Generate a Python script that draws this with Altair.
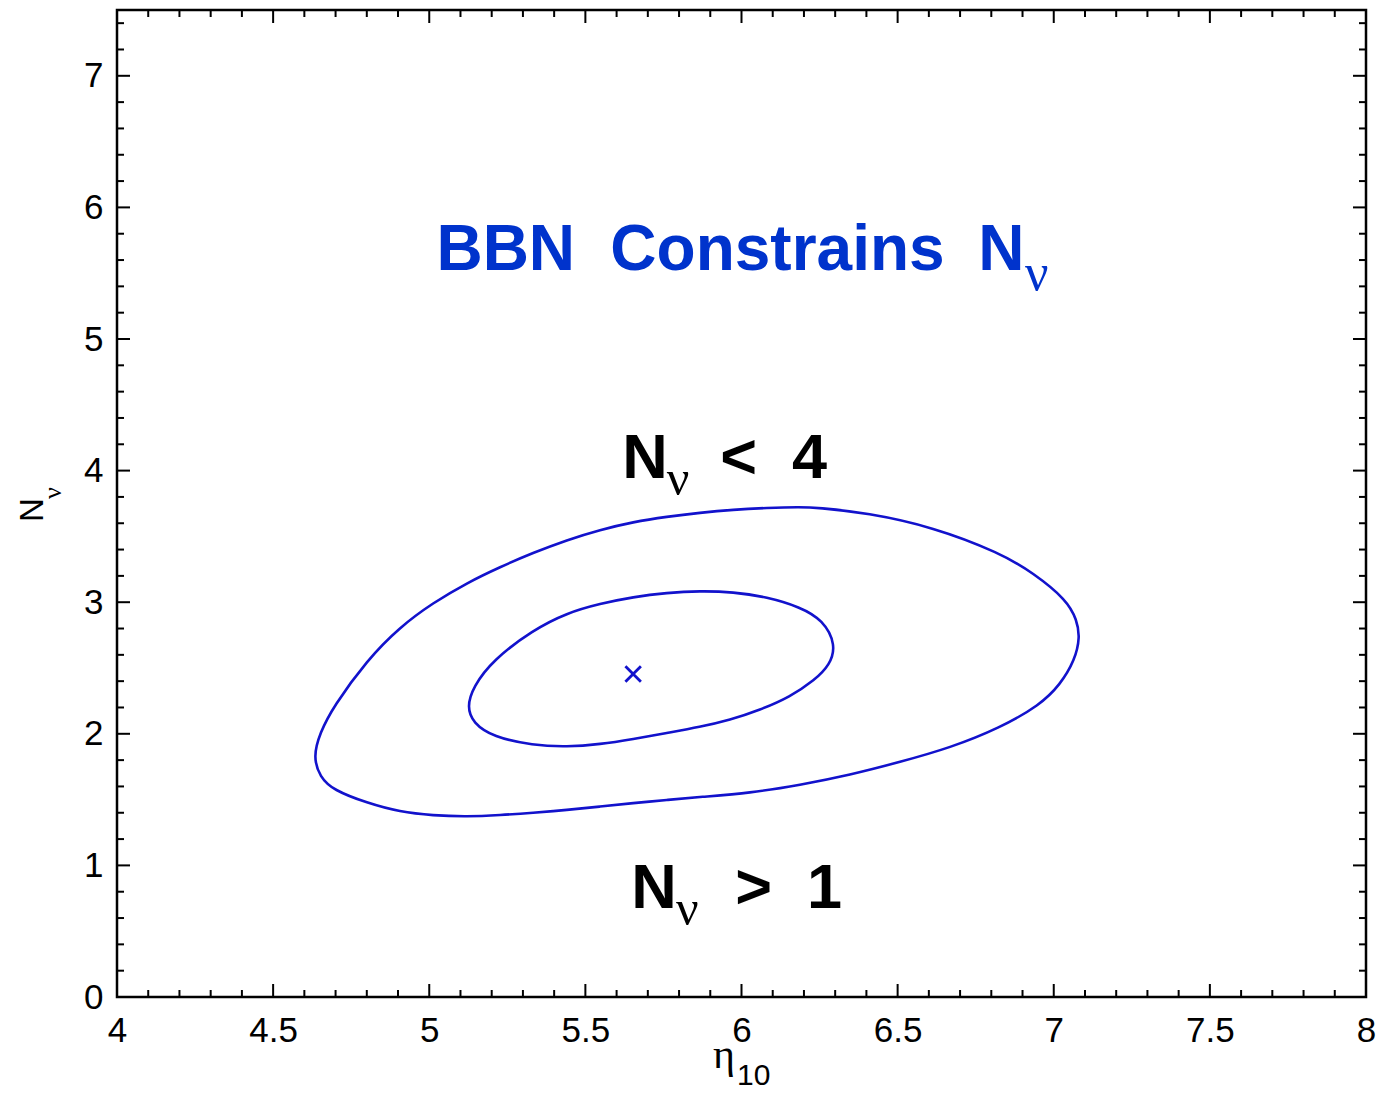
import altair as alt
import pandas as pd

# Confidence contours in the (eta_10, N_nu) plane
outer_x = [4.628, 4.650, 4.692, 4.801, 4.906, 5.012, 5.121, 5.227, 5.332, 5.441,
           5.547, 5.653, 5.761, 5.867, 5.973, 6.082, 6.187, 6.242, 6.402, 6.613,
           6.828, 6.934, 7.042, 7.074, 7.084, 7.068, 7.020, 6.956, 6.828, 6.668,
           6.508, 6.347, 6.187, 6.027, 5.867, 5.761, 5.653, 5.547, 5.441, 5.332,
           5.227, 5.121, 5.012, 4.906, 4.801, 4.692, 4.650]
outer_y = [1.824, 2.007, 2.204, 2.561, 2.812, 2.995, 3.147, 3.268, 3.375, 3.473,
           3.550, 3.610, 3.650, 3.680, 3.703, 3.717, 3.724, 3.719, 3.679, 3.572,
           3.375, 3.223, 3.017, 2.865, 2.736, 2.561, 2.371, 2.219, 2.045, 1.893,
           1.786, 1.687, 1.611, 1.550, 1.520, 1.497, 1.474, 1.447, 1.421, 1.399,
           1.382, 1.370, 1.379, 1.406, 1.474, 1.573, 1.672]

inner_x = [5.121, 5.140, 5.204, 5.332, 5.441, 5.547, 5.653, 5.761, 5.867, 5.973,
           6.082, 6.187, 6.261, 6.303, 6.283, 6.235, 6.155, 6.059, 5.963, 5.867,
           5.761, 5.653, 5.547, 5.441, 5.332, 5.204, 5.140]
inner_y = [2.204, 2.356, 2.561, 2.789, 2.919, 2.989, 3.040, 3.072, 3.086, 3.078,
           3.040, 2.964, 2.865, 2.675, 2.523, 2.409, 2.280, 2.181, 2.105, 2.052,
           2.007, 1.960, 1.920, 1.900, 1.912, 1.976, 2.083]

best_x = [5.653]
best_y = [2.455]

x_major = [4, 4.5, 5, 5.5, 6, 6.5, 7, 7.5, 8]
y_major = [0, 1, 2, 3, 4, 5, 6, 7]
x_minor = [round(4 + 0.1 * i, 1) for i in range(41) if i % 5]
y_minor = [round(0.2 * i, 1) for i in range(38) if i % 5]

W, H = 1249, 987
LINE_BLUE = "#1212cc"
TITLE_BLUE = "#0033cc"

rows = []
for name, xs_, ys_ in (("outer", outer_x, outer_y), ("inner", inner_x, inner_y)):
    for i, (a, b) in enumerate(zip(xs_, ys_)):
        rows.append({"x": a, "y": b, "curve": name, "order": i})
contours = pd.DataFrame(rows)

xscale = alt.Scale(domain=[4, 8], nice=False, zero=False)
yscale = alt.Scale(domain=[0, 7.5], nice=False, zero=False)
common_axis = dict(title=None, domain=False, ticks=False, grid=False,
                   labelFont="Liberation Sans", labelFontSize=35,
                   labelColor="black", labelFlush=False, labelOverlap=False)
X = alt.X("x:Q", scale=xscale,
          axis=alt.Axis(values=x_major, format=".1~f", labelPadding=16, **common_axis))
Y = alt.Y("y:Q", scale=yscale,
          axis=alt.Axis(values=y_major, format="d", labelPadding=14, **common_axis))

lines = alt.Chart(contours).mark_line(
    interpolate="basis-closed", strokeWidth=2.6, color=LINE_BLUE
).encode(x=X, y=Y, detail="curve:N", order="order:Q")

best = alt.Chart(pd.DataFrame({"x": best_x, "y": best_y})).mark_point(
    shape="M-1,-1L1,1M-1,1L1,-1", size=240, filled=False,
    strokeWidth=2.8, color=LINE_BLUE, opacity=1
).encode(x=X, y=Y)

# Inward tick marks on all four sides
def tick_layer(values, side, length):
    df = pd.DataFrame({"x" if side in ("bottom", "top") else "y": values})
    base = alt.Chart(df).mark_rule(color="black", strokeWidth=2)
    if side == "bottom":
        return base.encode(x=X, y=alt.value(H), y2=alt.value(H - length))
    if side == "top":
        return base.encode(x=X, y=alt.value(0), y2=alt.value(length))
    if side == "left":
        return base.encode(y=Y, x=alt.value(0), x2=alt.value(length))
    return base.encode(y=Y, x=alt.value(W), x2=alt.value(W - length))

ticks = []
for side in ("bottom", "top"):
    ticks.append(tick_layer(x_major, side, 13))
    ticks.append(tick_layer(x_minor, side, 7))
for side in ("left", "right"):
    ticks.append(tick_layer(y_major, side, 13))
    ticks.append(tick_layer(y_minor, side, 7))

def label(text, x, y, size, color, font="Liberation Sans", weight="bold"):
    return alt.Chart(pd.DataFrame({"x": [x], "y": [y], "t": [text]})).mark_text(
        align="left", baseline="alphabetic", fontSize=size, font=font,
        fontWeight=weight, color=color
    ).encode(x=X, y=Y, text="t:N")

NBSP = "\u00a0"
annotations = [
    label("BBN", 5.023, 5.526, 64, TITLE_BLUE),
    label("Constrains", 5.580, 5.526, 64, TITLE_BLUE),
    label("N", 6.758, 5.526, 64, TITLE_BLUE),
    label("ν", 6.908, 5.374, 52, TITLE_BLUE, font="Liberation Serif", weight="normal"),
    label("N", 5.618, 3.945, 63, "black"),
    label("ν", 5.761, 3.815, 50, "black", font="Liberation Serif", weight="normal"),
    label(f"<{NBSP}{NBSP}4", 5.932, 3.945, 63, "black"),
    label("N", 5.647, 0.676, 63, "black"),
    label("ν", 5.790, 0.547, 50, "black", font="Liberation Serif", weight="normal"),
    label(f">{NBSP}{NBSP}1", 5.980, 0.676, 63, "black"),
]

# Axis titles with subscripts
def pix_text(text, px, py, size, font, angle=0, align="left"):
    return alt.Chart(pd.DataFrame({"t": [text]})).mark_text(
        align=align, baseline="alphabetic", fontSize=size, font=font,
        angle=angle, color="black"
    ).encode(x=alt.value(px), y=alt.value(py), text="t:N")

axis_titles = [
    pix_text("η", 713 - 117, 1068 - 10, 42, "Liberation Serif"),
    pix_text("10", 737 - 117, 1085 - 10, 30, "Liberation Sans"),
    pix_text("N", 43 - 117, 522 - 10, 33, "Liberation Sans", angle=270),
    pix_text("ν", 61 - 117, 499 - 10, 26, "Liberation Serif", angle=270),
]

chart = alt.layer(lines, best, *ticks, *annotations, *axis_titles).properties(
    width=W, height=H,
    autosize=alt.AutoSizeParams(type="none"),
    padding={"left": 117, "top": 10, "right": 12, "bottom": 97},
    background="white",
).configure_view(stroke="black", strokeWidth=2.5)

chart.save("out.html", embed_options={"renderer": "svg", "actions": False})
